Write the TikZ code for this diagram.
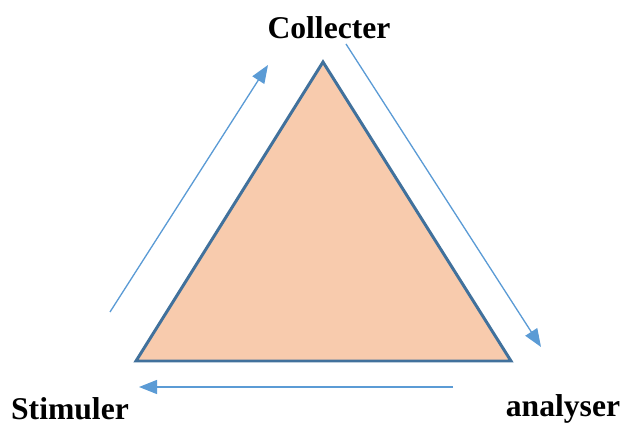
\documentclass[tikz,border=0pt]{standalone}
\usepackage{fontspec}
\setmainfont{Liberation Serif}
\usetikzlibrary{arrows.meta}
\definecolor{peach}{HTML}{F8CBAD}
\definecolor{edgeblue}{HTML}{41719C}
\definecolor{arrowblue}{HTML}{5B9BD5}
\begin{document}
\begin{tikzpicture}[x=0.04cm, y=-0.04cm,
    label/.style={font=\fontsize{36}{40}\selectfont\bfseries, inner sep=0pt},
    flow/.style={draw=arrowblue, line width=1.5pt, -{Triangle[length=0.72cm, width=0.56cm]}}
]
\useasboundingbox (0,0) rectangle (625,425);
% triangle corners
\coordinate (top) at (323,62);
\coordinate (left) at (136,361);
\coordinate (right) at (511,361);
\filldraw[fill=peach, draw=edgeblue, line width=3.4pt, line join=miter] (top) -- (right) -- (left) -- cycle;
% labels
\node[label] (collecter) at (329,28) {Collecter};
\node[label] (stimuler) at (70,409) {Stimuler};
\node[label] (analyser) at (563,409) {analyser};
% arrow ends
\coordinate (a1s) at (110,312);
\coordinate (a1e) at (268,65);
\coordinate (a2s) at (346,44);
\coordinate (a2e) at (541,347);
\coordinate (a3s) at (453,387);
\coordinate (a3e) at (139,387);
\draw[flow] (a1s) -- (a1e);
\draw[flow] (a2s) -- (a2e);
\draw[flow] (a3s) -- (a3e);
\end{tikzpicture}
\end{document}
